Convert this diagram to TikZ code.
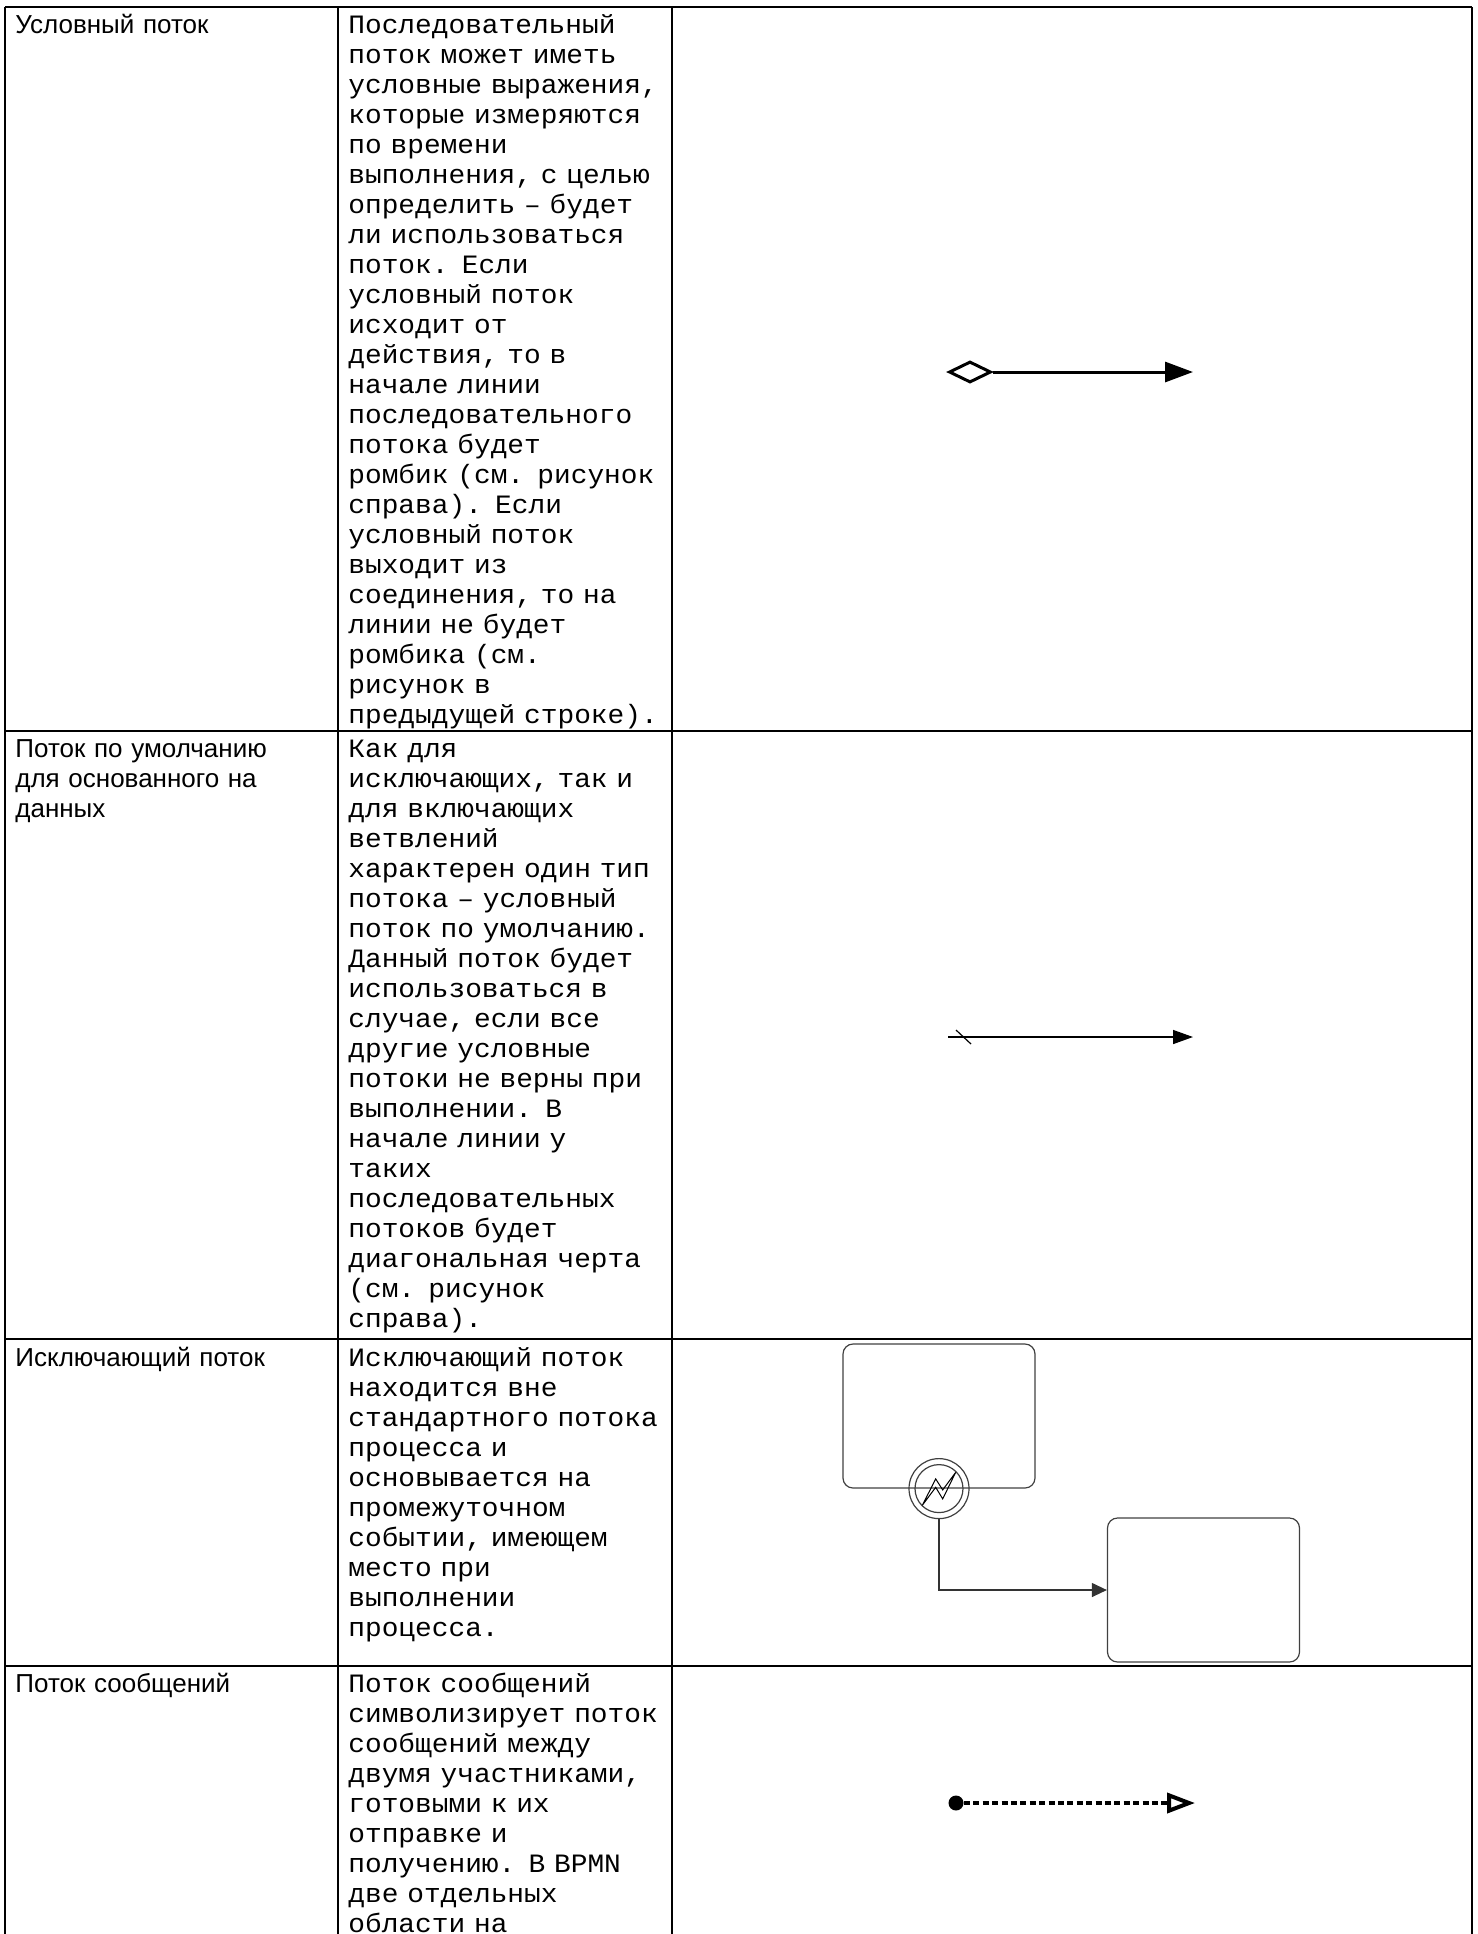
\documentclass[tikz,border=0pt]{standalone}
\usepackage{fontspec}
\setmainfont{Liberation Sans}
\newfontfamily\monofont[FakeStretch=1.05]{Liberation Mono}
\usetikzlibrary{arrows.meta,shapes.geometric,positioning}
\newcommand{\firstrow}{\rule{0pt}{12pt}}
\tikzset{
    tableline/.style={line width=1.4pt, draw=black},
    headcell/.style={anchor=north west, inner sep=0, text width=160pt, align=left, font=\fontsize{13}{15}\selectfont},
    desccell/.style={anchor=north west, inner sep=0, text width=162pt, align=left, font=\monofont\fontsize{13.25}{15}\selectfont},
    task/.style={draw=black!75, line width=0.6pt, rounded corners=5pt, minimum width=96pt, minimum height=72pt, inner sep=0},
    event/.style={circle, draw=black!75, line width=0.6pt, inner sep=0},
    condflow/.style={line width=1.5pt, -{Triangle[length=14pt, width=10pt]}},
    defaultflow/.style={line width=0.75pt, -{Triangle[length=10pt, width=7pt]}},
    seqflow/.style={draw=black!80, line width=0.6pt, -{Triangle[length=7.5pt, width=7pt]}},
    msgflow/.style={line width=1.6pt, dash pattern=on 3pt off 1.7pt, -{Triangle[open, length=14pt, width=10pt, line width=2pt]}}
}

\begin{document}
\begin{tikzpicture}[x=0.5pt, y=-0.5pt]
    \useasboundingbox (0,0) rectangle (1478,1934);

    % table
    \draw[tableline] (5,7) -- (1472,7);
    \draw[tableline] (5,731) -- (1472,731);
    \draw[tableline] (5,1339) -- (1472,1339);
    \draw[tableline] (5,1666) -- (1472,1666);
    \draw[tableline] (5,7) -- (5,1934);
    \draw[tableline] (338,7) -- (338,1934);
    \draw[tableline] (672,7) -- (672,1934);
    \draw[tableline] (1472,7) -- (1472,1934);

    % first column
    \node[headcell] (head-cond) at (15,9) {\firstrow Условный поток};
    \node[headcell] (head-dflt) at (15,733) {\firstrow Поток по умолчанию\\для основанного на\\данных};
    \node[headcell] (head-err) at (15,1342) {\firstrow Исключающий поток};
    \node[headcell] (head-msg) at (15,1668) {\firstrow Поток сообщений};

    % second column
    \node[desccell] (desc-cond) at (348,9) {\firstrow Последовательный\\поток может иметь\\условные выражения,\\которые измеряются\\по времени\\выполнения, с целью\\определить – будет\\ли использоваться\\поток. Если\\условный поток\\исходит от\\действия, то в\\начале линии\\последовательного\\потока будет\\ромбик (см. рисунок\\справа). Если\\условный поток\\выходит из\\соединения, то на\\линии не будет\\ромбика (см.\\рисунок в\\предыдущей строке).};
    \node[desccell] (desc-dflt) at (348,733) {\firstrow Как для\\исключающих, так и\\для включающих\\ветвлений\\характерен один тип\\потока – условный\\поток по умолчанию.\\Данный поток будет\\использоваться в\\случае, если все\\другие условные\\потоки не верны при\\выполнении. В\\начале линии у\\таких\\последовательных\\потоков будет\\диагональная черта\\(см. рисунок\\справа).};
    \node[desccell] (desc-err) at (348,1342) {\firstrow Исключающий поток\\находится вне\\стандартного потока\\процесса и\\основывается на\\промежуточном\\событии, имеющем\\место при\\выполнении\\процесса.};
    \node[desccell] (desc-msg) at (348,1668) {\firstrow Поток сообщений\\символизирует поток\\сообщений между\\двумя участниками,\\готовыми к их\\отправке и\\получению. В BPMN\\две отдельных\\области на};

    % conditional flow
    \node[diamond, draw, line width=1.5pt, minimum width=21pt, minimum height=10.5pt, inner sep=0] (cond-src) at (970,372) {};
    \coordinate (cond-end) at (1193,372);
    \draw[condflow] (cond-src.east) -- (cond-end);

    % default flow
    \coordinate (dflt-src) at (948,1037);
    \coordinate (dflt-end) at (1193,1037);
    \draw[defaultflow] (dflt-src) -- (dflt-end);
    \draw[line width=0.6pt] ([shift={(8,-7)}]dflt-src) -- ++(15,14);

    % exception flow
    \node[task] (task-a) at (939,1416) {};
    \node[task] (task-b) at (1203.5,1590) {};
    \node[event, minimum size=30pt] (err-event) at (task-a.south) {};
    \node[event, minimum size=24pt] (err-inner) at (err-event) {};
    \draw[line width=0.5pt, shift={(err-event)}] (-16.7,16.7) -- (-3.3,-9.7) -- (3.7,1.3) -- (16.7,-16.3) -- (3.7,10.3) -- (-3.3,-1.3) -- cycle;
    \draw[seqflow] (err-event.south) |- (task-b.west);

    % message flow
    \node[circle, fill, minimum size=7.5pt, inner sep=0] (msg-src) at (956,1803) {};
    \coordinate (msg-end) at (1195,1803);
    \draw[msgflow] (msg-src) -- (msg-end);
\end{tikzpicture}
\end{document}
